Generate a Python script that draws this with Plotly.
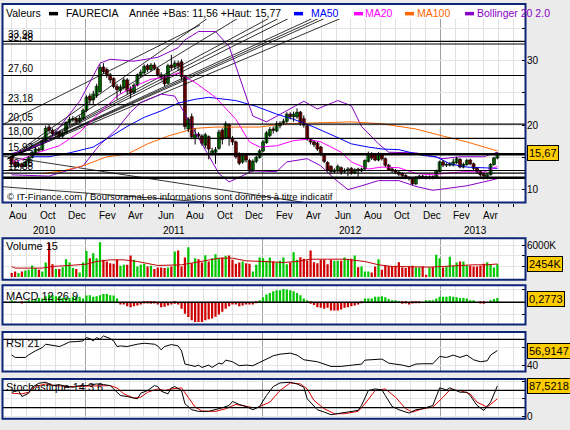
import plotly.graph_objects as go
import pandas as pd

W, H = 570, 430
FONT = "Liberation Sans, Arial, sans-serif"

# ---------------- data (weekly) ----------------
dates = pd.date_range("2010-08-02", periods=144, freq="7D")

opens = [15.0,14.2,13.7,14.0,13.7,14.3,15.0,15.7,16.3,16.2,17.5,19.7,19.2,18.6,18.9,18.3,18.8,20.4,20.8,21.0,
         20.6,21.0,22.3,24.5,23.9,24.6,25.2,29.0,28.6,27.8,27.2,26.0,25.4,25.8,27.0,25.6,25.1,26.2,27.6,28.1,
         29.2,28.6,29.3,28.7,27.8,27.5,26.5,29.3,29.0,29.6,29.8,27.5,19.4,21.3,17.9,18.6,18.3,16.9,18.2,15.6,
         15.8,16.4,19.2,18.0,20.0,18.0,17.4,15.5,14.3,15.3,14.5,13.0,14.4,15.0,16.0,17.3,18.4,19.4,19.1,19.9,
         20.3,20.6,21.7,21.3,21.3,22.0,21.0,19.9,17.8,17.4,17.2,16.6,15.5,14.2,13.6,12.8,12.9,13.4,12.8,12.9,
         13.3,12.6,13.2,12.9,13.2,14.4,15.5,15.4,14.6,15.5,14.8,13.8,13.2,13.0,12.7,12.5,12.2,11.9,11.7,10.9,
         11.8,12.1,12.0,11.8,12.0,11.8,12.8,14.3,13.8,13.8,13.8,14.2,14.7,13.5,13.9,14.6,14.0,13.3,12.8,12.4,
         12.0,12.3,13.9,14.9]
closes = [14.0,13.6,14.0,13.6,14.3,15.0,15.8,16.3,16.1,17.5,19.5,19.2,18.7,18.9,18.3,18.8,20.4,20.9,21.0,20.6,
          21.1,22.3,24.3,23.9,24.8,26.0,28.9,28.3,27.8,27.0,26.0,25.5,25.9,27.0,25.3,25.0,26.2,27.8,28.2,29.1,
          28.6,29.3,28.8,27.8,27.4,26.4,29.2,28.9,29.6,29.2,27.5,19.8,20.9,18.2,18.5,18.3,17.2,18.5,16.3,16.0,
          16.2,18.9,17.8,20.2,18.0,17.4,15.1,14.1,15.3,14.6,12.9,14.4,15.0,16.0,17.4,18.8,19.3,19.2,20.2,20.3,
          20.6,21.7,21.3,21.7,22.0,20.2,20.0,17.9,17.4,17.0,16.3,15.5,14.4,13.0,12.8,13.0,13.6,12.7,13.0,13.2,
          12.6,13.1,12.9,13.2,14.5,15.5,14.9,14.6,15.5,14.8,13.8,13.1,12.9,12.7,12.4,12.2,11.9,11.7,10.9,11.9,
          12.1,11.9,11.8,12.0,11.9,12.9,14.3,13.8,13.9,14.0,14.3,14.8,13.5,13.9,14.5,14.0,13.3,12.8,12.3,12.1,
          12.3,13.9,14.9,15.67]
highs = [15.2,14.5,14.3,14.2,14.5,15.2,16.0,16.6,16.6,17.8,19.9,20.1,19.5,19.2,19.1,19.0,20.6,21.3,21.4,21.2,
         21.5,22.6,24.6,24.9,25.3,26.4,29.4,29.6,28.9,28.1,27.4,26.4,26.3,27.3,27.3,26.0,26.5,28.0,28.6,29.4,
         29.5,29.6,29.7,29.0,28.2,27.8,29.5,30.9,30.0,30.0,30.2,27.8,21.2,21.8,19.5,18.9,18.6,18.8,18.4,16.5,
         16.6,19.3,19.5,20.6,20.3,18.3,17.6,15.8,15.7,15.5,14.8,14.7,15.3,16.3,17.7,19.1,19.7,19.8,20.6,20.6,
         21.0,22.0,22.0,22.1,22.6,22.2,21.5,20.1,18.0,17.6,17.4,16.8,15.7,14.4,13.8,13.3,13.9,13.6,13.3,13.5,
         13.5,13.3,13.4,13.4,14.7,15.9,15.8,15.6,15.8,15.7,15.0,14.0,13.4,13.2,12.9,12.7,12.4,12.1,11.9,12.1,
         12.3,12.3,12.2,12.2,12.2,13.1,14.5,14.6,14.2,14.3,14.8,15.1,14.9,14.2,14.8,14.8,14.2,13.5,13.0,12.6,
         12.6,14.1,15.1,15.77]
lows = [13.8,13.3,13.4,13.2,13.5,14.1,14.8,15.5,15.8,16.0,17.3,18.8,18.3,18.2,18.0,18.0,18.6,20.1,20.5,20.2,
        20.3,20.8,22.0,23.1,23.2,24.2,25.0,27.9,27.3,26.5,25.7,24.0,24.9,25.5,24.7,24.1,24.8,26.0,27.3,27.8,
        28.2,28.3,28.5,27.5,26.9,26.0,26.3,28.5,28.7,28.4,27.0,19.3,18.9,17.8,17.0,17.8,16.8,16.4,14.7,15.3,
        14.0,16.2,17.0,17.8,16.8,16.9,14.8,13.8,14.0,14.2,12.7,12.8,14.1,14.8,15.8,17.1,18.1,18.7,18.9,19.5,
        20.0,20.3,20.9,20.5,21.0,19.9,19.6,17.6,17.0,16.6,16.0,15.2,14.1,12.8,12.4,12.5,12.6,12.3,12.5,12.1,
        12.3,12.4,12.0,12.7,13.0,14.2,14.6,14.4,14.4,14.5,13.5,12.9,12.6,12.4,12.1,11.9,11.6,11.4,10.7,10.7,
        11.6,11.7,11.6,11.6,11.6,11.7,12.7,13.5,13.5,13.6,13.6,14.0,13.3,13.3,13.7,13.8,13.0,12.5,12.0,11.56,
        11.6,12.2,13.7,14.7]

volumes_k = [744,1054,744,1054,1240,1364,2170,1674,1364,1054,2728,6324,2418,1488,
             1488,1860,3348,2728,1674,1488,868,2728,4898,3534,4464,3534,6510,3224,2914,
             2604,2480,3224,2108,2294,2294,4030,3224,1984,2294,2480,1984,2108,1488,1798,
             1798,1674,1798,1984,4774,4960,1984,3658,5580,2604,3534,3348,2728,4092,2914,
             3534,4278,3534,3658,3968,4030,3224,2480,2728,2914,2604,2480,1054,2294,3658,
             3534,3038,3658,2914,2728,3038,3658,2418,2728,4650,3224,3720,3410,3100,4960,
             2790,2604,3224,3224,2418,3224,3038,3038,3038,3658,3410,3410,4030,1860,1984,
             1054,1054,868,1984,3348,1364,2108,1984,1984,2108,2790,1798,1674,1984,2108,
             1798,1798,1984,434,1798,1860,4154,3534,1798,1984,3782,2108,2728,2914,
             2914,2232,2108,1984,1984,2108,2480,2790,2294,1798,2418]
volma_idx = [0,1,9,12,17,22,25,29,33,37,43,47,50,54,61,65,69,74,80,84,88,93,98,104,108,112,118,123,127,131,136,140,143]
volma_val = [1984,1674,1674,1984,2170,2418,2914,3224,3224,2914,2170,2170,2294,2728,3534,3534,3038,2914,2728,2914,
             3348,3348,3348,2914,2294,1984,1860,1860,1984,2170,2294,2294,2454]

macd_hist = [0.08,0.02,0.0,-0.10,0.05,0.13,0.16,0.23,0.34,0.29,0.47,0.60,0.55,0.47,0.47,0.34,0.39,0.34,0.42,0.42,
             0.42,0.29,0.52,0.55,0.42,0.47,0.55,0.65,0.65,0.55,0.52,0.29,
             -0.18,-0.18,-0.31,-0.39,-0.31,-0.26,-0.18,-0.10,-0.10,-0.13,-0.10,-0.18,-0.39,-0.36,-0.26,-0.18,-0.13,
             -0.18,-0.52,-0.91,-1.17,-1.43,-1.56,-1.56,-1.56,-1.43,-1.35,-1.28,-1.15,-0.96,-0.76,-0.52,-0.31,-0.18,
             -0.18,-0.31,-0.26,-0.18,-0.18,-0.18,-0.05,
             0.13,0.39,0.60,0.73,0.86,0.94,0.94,1.04,0.99,0.94,0.86,0.73,0.55,0.29,0.08,
             -0.13,-0.23,-0.39,-0.44,-0.52,-0.44,-0.65,-0.65,-0.65,-0.57,-0.44,-0.39,-0.31,-0.26,-0.18,-0.03,
             0.29,0.29,0.29,0.42,0.42,0.47,0.39,0.26,0.16,0.08,0.02,
             -0.13,-0.10,-0.18,-0.10,-0.02,-0.05,0.0,
             0.08,0.13,0.13,0.29,0.42,0.42,0.42,0.47,0.42,0.39,0.34,0.34,0.29,0.13,0.08,0.0,-0.10,-0.13,0.0,
             0.08,0.26,0.34]

rsi_idx = [0,1,4,5,7,9,10,12,14,15,17,19,21,22,23,24,25,26,27,29,30,31,32,34,36,37,39,42,43,44,45,47,49,50,51,52,
           54,55,56,58,59,61,62,63,65,67,69,71,73,75,77,79,82,84,86,90,92,94,97,100,103,104,107,109,111,113,115,
           117,119,121,124,126,128,130,132,134,136,138,140,141,143]
rsi_val = [51.9,48.9,48.9,51.9,56.6,60.4,64.3,63.1,61.6,63.1,66.9,67.3,68.1,71.9,70.8,68.1,71.9,70.0,73.9,70.8,
           68.1,61.6,62.3,61.6,63.5,64.3,65.4,64.3,62.3,57.7,61.6,63.9,62.3,56.6,41.2,40.0,38.5,40.0,37.3,40.0,
           37.3,42.3,41.2,45.8,43.9,39.3,40.0,39.3,43.1,47.7,50.8,52.7,53.9,51.6,46.2,43.9,41.2,38.5,38.5,40.0,
           41.2,45.8,47.0,47.0,42.3,41.2,40.0,38.1,41.2,41.6,41.6,50.0,48.9,51.6,48.9,51.6,46.2,43.9,45.0,51.6,
           56.9]

stk_idx = [0,2,3,5,6,8,10,12,14,16,18,20,22,25,27,29,30,32,34,35,37,38,40,42,43,44,46,47,48,50,51,53,55,58,60,
           62,64,65,67,69,71,73,75,77,79,82,84,86,87,90,92,94,97,99,102,103,105,107,109,110,112,114,117,119,121,
           124,126,128,129,132,134,135,137,139,141,143]
stk_val = [69.5,74.3,57.1,66.6,83.8,95.2,98.1,88.5,91.4,85.7,83.8,88.5,88.5,93.3,91.4,88.5,79.0,60.0,57.1,55.2,
           50.5,66.6,74.3,88.5,85.7,72.4,64.7,81.9,85.7,74.3,36.2,19.0,14.3,14.3,19.0,24.8,31.4,42.8,34.3,28.6,
           19.0,28.6,60.0,85.7,96.2,98.1,93.3,83.8,50.5,19.0,12.4,4.8,9.5,12.4,17.1,31.4,74.3,79.0,76.2,60.0,
           28.6,19.0,9.5,19.0,21.9,31.4,81.9,76.2,81.9,69.5,69.5,60.0,31.4,17.1,40.9,87.5]
std_idx = [0,3,5,7,10,13,17,21,26,29,31,33,36,38,40,43,45,47,50,52,54,56,60,63,66,69,72,76,79,82,85,87,89,92,95,
           98,102,104,107,110,113,116,118,121,124,127,129,132,135,137,140,143]
std_val = [66.6,64.7,69.5,85.7,93.3,88.5,85.7,86.6,88.5,88.5,81.9,64.7,52.4,55.2,69.5,79.0,74.3,79.0,81.9,55.2,
           26.7,15.2,14.3,21.9,34.3,28.6,23.8,40.9,74.3,96.2,93.3,79.0,45.7,21.9,7.6,7.6,14.3,36.2,74.3,79.0,
           55.2,21.9,12.4,21.9,26.7,55.2,76.2,74.3,64.7,40.9,26.7,50.5]

ma50_idx = [6,11,17,24,29,34,39,44,49,54,58,66,72,78,83,89,95,100,105,109,114,121,125,129,134,139,143]
ma50_val = [15.1,15.1,15.7,16.6,18.2,19.8,21.2,22.2,23.4,24.0,24.3,23.8,22.9,21.7,20.9,19.7,18.3,17.1,16.6,16.3,
            16.2,15.3,15.1,14.0,13.5,13.4,13.3]
ma20_idx = [0,2,8,14,20,26,31,36,41,46,49,54,60,66,70,73,78,83,87,91,97,100,105,109,114,119,124,129,134,139,143]
ma20_val = [14.3,14.5,15.8,16.8,18.9,22.0,24.5,26.0,27.1,27.5,28.1,26.6,24.3,20.9,17.4,16.6,16.8,17.6,17.8,17.4,
            15.8,14.3,13.2,13.5,13.4,12.5,12.3,12.6,12.8,12.7,13.6]
ma100_idx = [9,15,21,28,34,40,46,50,54,60,73,80,87,100,109,119,127,134,143]
ma100_val = [12.5,12.9,13.7,15.1,15.5,17.1,18.3,18.9,19.5,19.7,19.7,20.2,20.3,20.5,20.2,19.4,18.3,17.4,16.0]
bbu_idx = [0,5,11,20,26,29,36,43,49,51,55,60,64,68,71,75,81,86,90,96,100,103,108,111,119,127,132,139,143]
bbu_val = [15.6,16.3,17.6,23.7,29.6,30.2,29.9,30.5,32.0,33.2,34.5,34.5,32.2,26.0,21.4,20.5,22.2,23.7,22.5,23.8,
           23.0,19.8,17.1,15.8,15.7,14.8,15.1,15.1,15.8]
bbl_idx = [0,11,21,26,31,35,38,44,48,54,58,61,64,68,71,78,81,87,91,95,99,103,108,114,119,124,129,134,139,143]
bbl_val = [12.3,12.1,13.7,17.0,19.4,22.0,23.5,24.8,24.5,18.9,15.3,12.5,11.2,12.2,12.9,12.8,14.3,14.8,13.7,11.7,
           10.0,10.6,11.4,11.4,10.5,9.9,10.2,10.6,11.2,11.7]

levels = [32.97, 32.57, 27.69, 23.18, 20.15, 17.95, 15.49, 12.97, 12.57, 11.85]
level_labels = ["33,98", "32,48", "27,60", "23,18", "20,05", "18,00", "15,92", "13,38", "12,88", ""]

trend_lines = [  # (start date, start price, end date, end price)
    ("2010-07-25", 14.8, "2011-09-08", 36.46),
    ("2010-07-25", 14.8, "2011-11-09", 36.46),
    ("2010-07-25", 14.8, "2012-01-12", 36.46),
    ("2010-07-25", 14.8, "2012-02-01", 36.46),
    ("2010-07-25", 14.8, "2012-02-22", 36.46),
    ("2010-07-25", 14.8, "2012-04-11", 36.46),
    ("2010-07-25", 14.8, "2012-04-24", 36.46),
    ("2010-07-25", 14.8, "2012-05-06", 36.46),
    ("2010-07-25", 14.8, "2012-06-08", 36.46),
    ("2010-07-15", 20.1, "2011-08-25", 35.5),
    ("2010-07-15", 15.2, "2012-05-19", 7.4),
    ("2010-07-15", 10.45, "2011-12-06", 7.55),
]

month_ticks = ["2010-08-15","2010-10-15","2010-12-15","2011-02-15","2011-04-15","2011-06-15","2011-08-15",
               "2011-10-15","2011-12-15","2012-02-15","2012-04-15","2012-06-15","2012-08-15","2012-10-15",
               "2012-12-15","2013-02-15","2013-04-15"]
month_text = ["Aou","Oct","Dec","Fev","Avr","Jun","Aou","Oct","Dec","Fev","Avr","Jun","Aou","Oct","Dec","Fev","Avr"]
year_pos = ["2010-10-08", "2011-07-02", "2012-07-01", "2013-03-15"]
year_text = ["2010", "2011", "2012", "2013"]

last_price = 15.67
last_vol_ma = 2454
last_macd = 0.2773
last_rsi = 56.9147
last_stoch = 87.5218

# ---------------- helpers ----------------
def xp(px):
    return px / W

def yp(py):
    return 1 - py / H

GREEN = "#00c800"
RED = "#d00000"
NAVY = "#0c2577"
DAY = 86400000

def dsel(idx):
    return [dates[i] for i in idx]

fig = go.Figure()

# trend lines
for (d0, v0, d1, v1) in trend_lines:
    fig.add_trace(go.Scatter(x=[d0, d1], y=[v0, v1], mode="lines",
                             line=dict(color="black", width=0.8), xaxis="x", yaxis="y", hoverinfo="skip"))

# moving averages / bollinger
for idx, val, col in [(bbu_idx, bbu_val, "#8a00c8"), (bbl_idx, bbl_val, "#8a00c8"),
                      (ma100_idx, ma100_val, "#ff6600"), (ma50_idx, ma50_val, "#0000ff"),
                      (ma20_idx, ma20_val, "#ff00ff")]:
    fig.add_trace(go.Scatter(x=dsel(idx), y=val, mode="lines", line=dict(color=col, width=1),
                             xaxis="x", yaxis="y", hoverinfo="skip"))

# candle wicks
wx, wy = [], []
for d, lo, hi in zip(dates, lows, highs):
    wx += [d, d, None]
    wy += [lo, hi, None]
fig.add_trace(go.Scatter(x=wx, y=wy, mode="lines", line=dict(color="black", width=1),
                         xaxis="x", yaxis="y", hoverinfo="skip"))
# candle bodies
base = [min(o, c) for o, c in zip(opens, closes)]
body = [max(abs(c - o), 0.1) for o, c in zip(opens, closes)]
updown = [GREEN if c >= o else RED for o, c in zip(opens, closes)]
fig.add_trace(go.Bar(x=dates, y=body, base=base, width=6.0 * DAY, marker=dict(color=updown,
                     line=dict(color="black", width=0.7)), xaxis="x", yaxis="y"))

# volume
fig.add_trace(go.Bar(x=dates, y=volumes_k, width=4.6 * DAY, marker=dict(color=updown, line=dict(width=0)),
                     xaxis="x2", yaxis="y2"))
fig.add_trace(go.Scatter(x=dsel(volma_idx), y=volma_val, mode="lines", line=dict(color="#c00000", width=1),
                         xaxis="x2", yaxis="y2"))

# MACD histogram
fig.add_trace(go.Bar(x=dates, y=macd_hist, width=4.6 * DAY,
                     marker=dict(color=[GREEN if v >= 0 else RED for v in macd_hist], line=dict(width=0)),
                     xaxis="x3", yaxis="y3"))

# RSI
fig.add_trace(go.Scatter(x=dsel(rsi_idx), y=rsi_val, mode="lines", line=dict(color="black", width=1),
                         xaxis="x4", yaxis="y4"))

# Stochastic
fig.add_trace(go.Scatter(x=dsel(std_idx), y=std_val, mode="lines", line=dict(color="#dd0000", width=1),
                         xaxis="x5", yaxis="y5"))
fig.add_trace(go.Scatter(x=dsel(stk_idx), y=stk_val, mode="lines", line=dict(color="black", width=1),
                         xaxis="x5", yaxis="y5"))

# ---------------- layout ----------------
xdom = [xp(3), xp(526)]
xrange = ["2010-07-15", "2013-06-27"]
panels = {  # name: (top py, bottom py)
    "": (19, 204), "2": (240, 281.7), "3": (287.3, 326.7), "4": (334.3, 374), "5": (381.7, 421.7)}

def xaxis_cfg(main=False):
    return dict(domain=xdom, range=xrange, type="date", tickmode="linear", tick0="2011-01-01", dtick="M12",
                showticklabels=False, ticks="outside" if main else "", ticklen=3, tickcolor="black",
                showgrid=True, gridcolor="#a0a0a0", gridwidth=1, zeroline=False, showline=False,
                minor=dict(tick0="2010-01-01", dtick="M1", showgrid=True, gridcolor="#e0e0e0",
                           ticks="outside" if main else "", ticklen=3, tickcolor="black"))

def yaxis_cfg(key, rng, tv, tt):
    top, bot = panels[key]
    return dict(domain=[yp(bot), yp(top)], range=rng, side="right", anchor="x" + key,
                tickmode="array", tickvals=tv, ticktext=tt, ticks="inside", ticklen=4, tickcolor="black",
                tickfont=dict(size=10, color="black", family=FONT), showgrid=True, gridcolor="#e6e6e6",
                zeroline=False, showline=False, fixedrange=True)

layout = dict(
    width=W, height=H, margin=dict(l=0, r=0, t=0, b=0), paper_bgcolor="#ebebeb", plot_bgcolor="white",
    showlegend=False, barmode="overlay", font=dict(family=FONT, size=10, color="black"),
    xaxis=dict(xaxis_cfg(True), anchor="y"),
    yaxis=yaxis_cfg("", [8.0, 36.46], [10, 15, 20, 25, 30, 35], ["10", "", "20", "", "30", ""]),
    yaxis2=yaxis_cfg("2", [-500, 7250], [2000, 4000, 6000], ["", "", "6000K"]),
    yaxis3=yaxis_cfg("3", [-1.75, 1.33], [-1, 1], ["", ""]),
    yaxis4=yaxis_cfg("4", [32.7, 78.5], [40, 60], ["40", ""]),
    yaxis5=yaxis_cfg("5", [-6.9, 107.4], [0, 50, 100], ["0", "", ""]),
)
for k in ["2", "3", "4", "5"]:
    layout["xaxis" + k] = dict(xaxis_cfg(False), anchor="y" + k, matches="x")
fig.update_layout(**layout)

shapes = []
# header background of main panel
shapes.append(dict(type="rect", xref="paper", yref="paper", x0=xp(2.5), x1=xp(525.5), y0=yp(19), y1=yp(4),
                   fillcolor="white", line=dict(width=0), layer="below"))
# level lines
for i, lv in enumerate(levels):
    wdt = 2.5 if i in (6, 9) else 1.2
    shapes.append(dict(type="line", xref="x domain", x0=0, x1=1, yref="y", y0=lv, y1=lv,
                       line=dict(color="black", width=wdt), layer="above"))
# reference lines in indicator panels
for xr, yr, val, wdt in [("x3 domain", "y3", 0, 1.5), ("x4 domain", "y4", 70, 1.2),
                         ("x5 domain", "y5", 75, 1.2), ("x5 domain", "y5", 25, 1.2)]:
    shapes.append(dict(type="line", xref=xr, x0=0, x1=1, yref=yr, y0=val, y1=val,
                       line=dict(color="black", width=wdt), layer="above"))
# panel borders
for top, bot in [(4, 204), (240, 281.7), (287.3, 326.7), (334.3, 374), (381.7, 421.7)]:
    shapes.append(dict(type="rect", xref="paper", yref="paper", x0=xp(2.5), x1=xp(525.5), y0=yp(bot), y1=yp(top),
                       line=dict(color=NAVY, width=2), fillcolor="rgba(0,0,0,0)", layer="above"))
# legend swatches
for x0, x1, col in [(49, 58, "black"), (294, 303, "#0000ff"), (354, 363, "#ff00ff"), (405, 414, "#ff6600"),
                    (465, 474, "#8a00c8")]:
    shapes.append(dict(type="rect", xref="paper", yref="paper", x0=xp(x0), x1=xp(x1), y0=yp(15.5), y1=yp(12),
                       fillcolor=col, line=dict(width=0), layer="above"))
fig.update_layout(shapes=shapes)

ann = []
def text(px, py, s, color="black", size=10.5, anchor="left"):
    ann.append(dict(x=xp(px), y=yp(py), xref="paper", yref="paper", text=s, showarrow=False,
                    xanchor=anchor, yanchor="middle", font=dict(size=size, color=color, family=FONT)))

# header
text(4, 13.5, "Valeurs")
text(64, 13.5, "FAURECIA")
text(127, 13.5, "Année +Bas: 11,56 +Haut: 15,77")
text(309, 13.5, "MA50", "#0000ff")
text(363, 13.5, "MA20", "#ff00ff")
text(415, 13.5, "MA100", "#ff6600")
text(475, 13.5, "Bollinger 20 2.0", "#8a00c8")
# level labels
for lv, lab in zip(levels, level_labels):
    if lab:
        ann.append(dict(x=0.006, xref="x domain", y=lv, yref="y", text=lab, showarrow=False, xanchor="left",
                        yanchor="bottom", yshift=-1, font=dict(size=10, color="black", family=FONT)))
text(5, 197.5, "© IT-Finance.com / BoursoramaLes informations sont données à titre indicatif", size=9.5)
# panel titles
text(4, 248, "Volume 15", size=11)
text(4, 298, "MACD 12 26 9", size=11)
text(4, 345.5, "RSI 21", size=11)
text(4, 389.5, "Stochastique 14 3 6", size=11)
# month and year labels
for d, s in zip(month_ticks, month_text):
    ann.append(dict(x=d, xref="x", y=yp(216.7), yref="paper", text=s, showarrow=False, xanchor="center",
                    yanchor="middle", font=dict(size=10, color="black", family=FONT)))
for d, s in zip(year_pos, year_text):
    ann.append(dict(x=d, xref="x", y=yp(232), yref="paper", text=s, showarrow=False, xanchor="center",
                    yanchor="middle", font=dict(size=10, color="black", family=FONT)))
# last-value boxes
for yref, val, lab in [("y", last_price, "15,67"), ("y2", last_vol_ma, "2454K"), ("y3", last_macd, "0,2773"),
                       ("y4", last_rsi, "56,9147"), ("y5", last_stoch, "87,5218")]:
    ann.append(dict(x=xp(527), xref="paper", y=val, yref=yref, text=lab, showarrow=False, xanchor="left",
                    yanchor="middle", bgcolor="#ffcc00", bordercolor="black", borderwidth=1, borderpad=1,
                    font=dict(size=11, color="black", family=FONT)))
fig.update_layout(annotations=ann)

fig.write_html("out.html")
